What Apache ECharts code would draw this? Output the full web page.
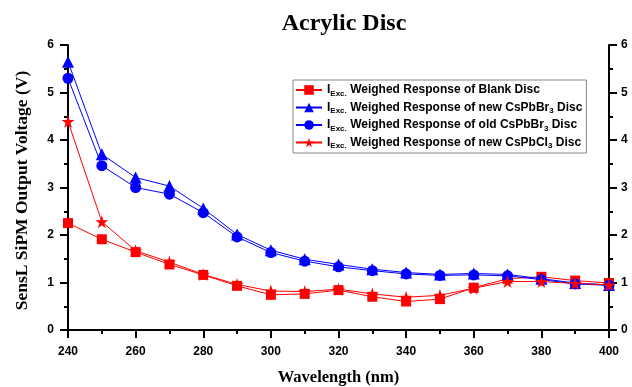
<!DOCTYPE html>
<html>
<head>
<meta charset="utf-8">
<script src="https://cdn.jsdelivr.net/npm/echarts@6/dist/echarts.min.js"></script>
<style>
  html, body { margin: 0; padding: 0; background: #fff; }
  #chart { width: 632px; height: 387px; }
</style>
</head>
<body>
<div id="chart"></div>
<script>
// 波长 (nm)
const wavelength = [240, 250, 260, 270, 280, 290, 300, 310, 320, 330, 340, 350, 360, 370, 380, 390, 400]
// 各光盘的响应电压 (V)
const blankDisc = [2.25, 1.91, 1.64, 1.38, 1.16, 0.93, 0.74, 0.76, 0.84, 0.70, 0.60, 0.65, 0.89, 1.08, 1.12, 1.04, 0.99]
const newBr3Disc = [5.65, 3.70, 3.21, 3.03, 2.56, 2.01, 1.68, 1.49, 1.38, 1.28, 1.21, 1.17, 1.19, 1.17, 1.08, 0.99, 0.95]
const oldBr3Disc = [5.30, 3.46, 3.00, 2.86, 2.47, 1.96, 1.63, 1.45, 1.33, 1.25, 1.18, 1.15, 1.16, 1.14, 1.06, 0.97, 0.94]
const newCl3Disc = [4.39, 2.28, 1.67, 1.43, 1.17, 0.96, 0.82, 0.81, 0.86, 0.76, 0.69, 0.73, 0.88, 1.02, 1.02, 0.98, 0.95]
const yTicks = [0, 1, 2, 3, 4, 5, 6]

const serif = '"Liberation Serif", "Times New Roman", serif'
const sans = '"Liberation Sans", Arial, sans-serif'
const starPath = 'path://M50,0 L61,35 L98,35 L68,57 L79,91 L50,70 L21,91 L32,57 L2,35 L39,35 Z'

// 图例文字，带下标
const legendText = {
    blank: '{n|I}{s|Exc.}{n| Weighed Response of Blank Disc}',
    newBr: '{n|I}{s|Exc.}{n| Weighed Response of new CsPbBr}{s|3}{n| Disc}',
    oldBr: '{n|I}{s|Exc.}{n| Weighed Response of old CsPbBr}{s|3}{n| Disc}',
    newCl: '{n|I}{s|Exc.}{n| Weighed Response of new CsPbCl}{s|3}{n| Disc}'
}

function pairs(arr) {
    return arr.map((v, i) => [wavelength[i], v])
}

function makeSeries(name, data, color, symbol, size) {
    return {
        name: name,
        type: 'line',
        data: pairs(data),
        symbol: symbol,
        symbolSize: size,
        itemStyle: { color: color },
        lineStyle: { color: color, width: 1 },
        z: 3
    }
}

const axisLine = { show: true, lineStyle: { color: '#000', width: 2 } }
const tickStyle = { color: '#000', width: 2 }
const labelStyle = { fontFamily: sans, fontSize: 12, fontWeight: 'bold', color: '#000' }

const chart = echarts.init(document.getElementById('chart'))
const opt = {
    animation: false,
    backgroundColor: '#fff',
    title: {
        text: 'Acrylic Disc',
        left: 339,
        textAlign: 'center',
        top: 7,
        textStyle: { fontFamily: serif, fontSize: 24, fontWeight: 'bold', color: '#000' }
    },
    // 固定绘图区，不让标签挤压
    grid: { left: 68, right: 23, top: 45, bottom: 57, outerBoundsMode: 'none' },
    legend: {
        orient: 'vertical',
        left: 293,
        top: 80,
        itemWidth: 26,
        itemHeight: 12,
        itemGap: 4,
        padding: [4, 4, 3, 2],
        borderColor: '#888',
        borderWidth: 1,
        data: ['blank', 'newBr', 'oldBr', 'newCl'],
        formatter: name => legendText[name],
        textStyle: {
            rich: {
                n: { fontFamily: sans, fontSize: 12, fontWeight: 'bold', color: '#000', lineHeight: 15 },
                s: { fontFamily: sans, fontSize: 8, fontWeight: 'bold', color: '#000', verticalAlign: 'bottom' }
            }
        }
    },
    xAxis: [
        {
            type: 'value',
            min: 240,
            max: 400,
            interval: 20,
            name: 'Wavelength (nm)',
            nameLocation: 'middle',
            nameGap: 39,
            nameTextStyle: { fontFamily: serif, fontSize: 16.5, fontWeight: 'bold', color: '#000' },
            axisLine: axisLine,
            axisTick: { show: true, inside: false, length: 8, lineStyle: tickStyle },
            minorTick: { show: true, splitNumber: 2, length: 4, lineStyle: tickStyle },
            axisLabel: Object.assign({ margin: 16 }, labelStyle),
            splitLine: { show: false }
        },
        {
            type: 'value',
            position: 'top',
            min: 240,
            max: 400,
            interval: 20,
            axisLine: axisLine,
            axisTick: { show: true, inside: true, length: 8, lineStyle: tickStyle },
            minorTick: { show: true, splitNumber: 2, length: 4, lineStyle: tickStyle },
            axisLabel: { show: false },
            splitLine: { show: false }
        }
    ],
    yAxis: [
        {
            type: 'value',
            min: yTicks[0],
            max: yTicks[yTicks.length - 1],
            interval: 1,
            name: 'SensL SiPM Output Voltage (V)',
            nameLocation: 'middle',
            nameGap: 37,
            nameTextStyle: { fontFamily: serif, fontSize: 17.5, fontWeight: 'bold', color: '#000', padding: [0, 6, 0, 0] },
            axisLine: axisLine,
            axisTick: { show: true, inside: false, length: 8, lineStyle: tickStyle },
            minorTick: { show: true, splitNumber: 2, length: 4, lineStyle: tickStyle },
            axisLabel: Object.assign({ margin: 14 }, labelStyle),
            splitLine: { show: false }
        },
        {
            type: 'value',
            position: 'right',
            min: yTicks[0],
            max: yTicks[yTicks.length - 1],
            interval: 1,
            axisLine: axisLine,
            axisTick: { show: true, inside: false, length: 8, lineStyle: tickStyle },
            minorTick: { show: true, splitNumber: 2, length: 4, lineStyle: tickStyle },
            axisLabel: Object.assign({ margin: 12 }, labelStyle),
            splitLine: { show: false }
        }
    ],
    series: [
        makeSeries('blank', blankDisc, '#ff0000', 'rect', 10),
        makeSeries('newBr', newBr3Disc, '#0000ff', 'triangle', 12),
        makeSeries('oldBr', oldBr3Disc, '#0000ff', 'circle', 11),
        makeSeries('newCl', newCl3Disc, '#ff0000', starPath, 13)
    ]
}
chart.setOption(opt)
</script>
</body>
</html>
